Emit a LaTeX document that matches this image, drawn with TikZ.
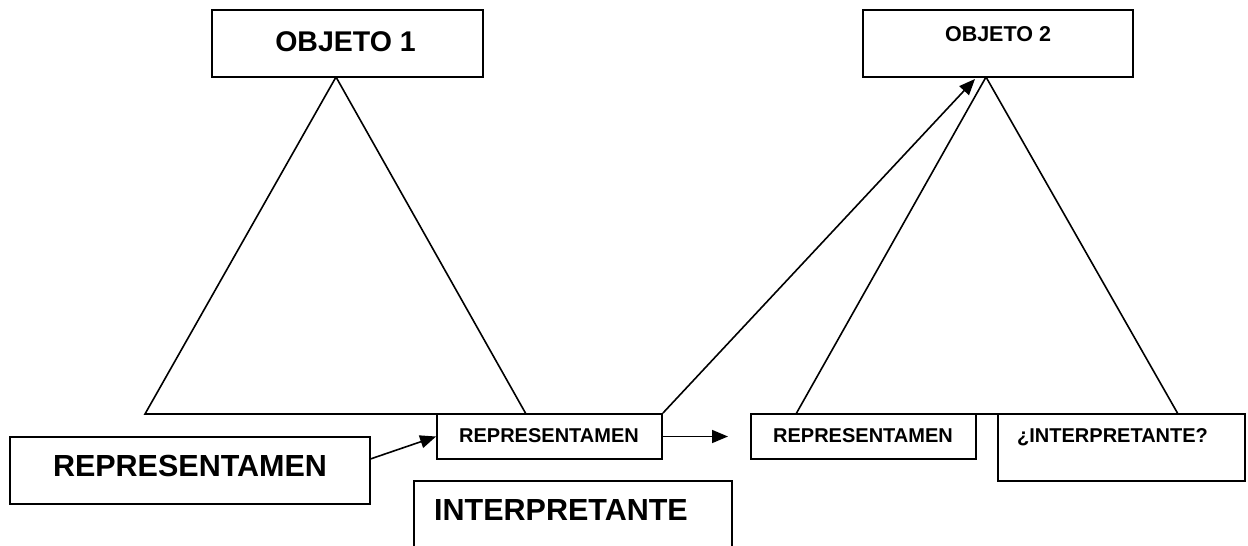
\documentclass[tikz,border=0pt]{standalone}
\usepackage{fontspec}
\setmainfont{Liberation Sans}
\usetikzlibrary{arrows.meta,calc}

\tikzset{
  box/.style={draw, line width=1.8pt, rectangle, inner sep=0pt, fill=white},
  txt/.style={inner sep=0pt, font=\bfseries},
  edge/.style={line width=1.6pt},
  arr/.style={line width=1.6pt, -{Triangle[length=16pt,width=13pt]}},
}

\begin{document}
\begin{tikzpicture}[x=1pt,y=-1pt]
  \useasboundingbox (0,0) rectangle (1248,546);
  \clip (0,0) rectangle (1248,546);
  \fill[white] (0,0) rectangle (1248,546);

  % apexes of the two triangles and the tips of the free arrows
  \coordinate (a1) at (336,77);
  \coordinate (a2) at (986,77);
  \coordinate (t2) at (975,79);
  \coordinate (t1) at (728,436.5);

  % triangles (drawn first, boxes sit on their bases)
  \draw[edge, line join=miter] (a1) -- (145,414) -- (526,414) -- cycle;
  \draw[edge, line join=miter] (a2) -- (796,414) -- (1178,414) -- cycle;

  % boxes
  \node[box, minimum width=271pt, minimum height=67pt] (o1) at (347.5,43.5) {};
  \node[box, minimum width=270pt, minimum height=67pt] (o2) at (998,43.5) {};
  \node[box, minimum width=360pt, minimum height=67pt] (bigrep) at (190,470.5) {};
  \node[box, minimum width=225pt, minimum height=45pt] (rep1) at (549.5,436.5) {};
  \node[box, minimum width=225pt, minimum height=45pt] (rep2) at (863.5,436.5) {};
  \node[box, minimum width=247pt, minimum height=67pt] (int2) at (1121.5,447.5) {};
  \node[box, minimum width=318pt, minimum height=79pt] (int1) at (573,520.5) {};

  % labels
  \node[txt, anchor=base, font=\bfseries\fontsize{28.5}{30}\selectfont] (lo1) at (345.5,51) {OBJETO 1};
  \node[txt, anchor=base, font=\bfseries\fontsize{21.5}{23}\selectfont] (lo2) at (998,41.7) {OBJETO 2};
  \node[txt, anchor=base, font=\bfseries\fontsize{30.5}{32}\selectfont] (lbr) at (190,476) {REPRESENTAMEN};
  \node[txt, anchor=base, font=\bfseries\fontsize{20}{22}\selectfont] (lr1) at (549,442.7) {REPRESENTAMEN};
  \node[txt, anchor=base, font=\bfseries\fontsize{20}{22}\selectfont] (lr2) at (863,442.7) {REPRESENTAMEN};
  \node[txt, anchor=base west, font=\bfseries\fontsize{20}{22}\selectfont] (li2) at (1017,442.7) {¿INTERPRETANTE?};
  \node[txt, anchor=base west, font=\bfseries\fontsize{30.5}{32}\selectfont] (li1) at (434,520.7) {INTERPRETANTE};

  % connectors
  \draw[arr] ($(bigrep.north east)!0.33!(bigrep.south east)$) -- (rep1.west);
  \draw[arr] (rep1.east) -- (t1);
  \draw[arr] (rep1.north east) -- (t2);
\end{tikzpicture}
\end{document}
